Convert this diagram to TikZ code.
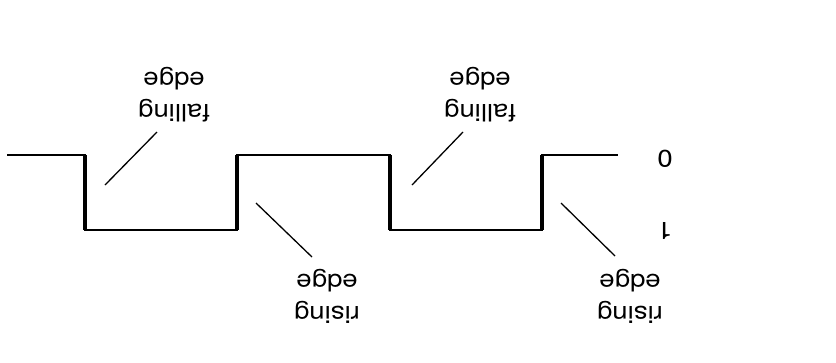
\documentclass[tikz,border=0pt]{standalone}
\usepackage{fontspec}
\setmainfont{TeX Gyre Heros}
\begin{document}
\begin{tikzpicture}[x=1pt,y=-1pt,
  lbl/.style={font=\fontsize{24}{32}\selectfont, align=center, rotate=180, xscale=1.15, inner sep=0pt},
  levelline/.style={line width=1.8pt},
  edgeline/.style={line width=4.2pt},
  leader/.style={line width=1.3pt}]
\useasboundingbox (0,0) rectangle (836,362);
% waveform corners
\coordinate (s) at (7,155);
\coordinate (a1) at (85,155);
\coordinate (a2) at (85,230);
\coordinate (b1) at (237,230);
\coordinate (b2) at (237,155);
\coordinate (c1) at (390,155);
\coordinate (c2) at (390,230);
\coordinate (d1) at (542,230);
\coordinate (d2) at (542,155);
\coordinate (e) at (618,155);
\draw[levelline] (s) -- (a1) -- (a2) -- (b1) -- (b2) -- (c1) -- (c2) -- (d1) -- (d2) -- (e);
\draw[edgeline] (a1) -- (a2);
\draw[edgeline] (b1) -- (b2);
\draw[edgeline] (c1) -- (c2);
\draw[edgeline] (d1) -- (d2);
% labels
\node[lbl] (f1) at (174,95) {falling\\edge};
\node[lbl] (f2) at (480,95) {falling\\edge};
\node[lbl] (r1) at (327,296) {rising\\edge};
\node[lbl] (r2) at (630,296) {rising\\edge};
\node[lbl] (zero) at (665,159) {0};
\node[lbl] (one) at (665,231) {1};
% leader lines
\coordinate (f1a) at (105,185);
\coordinate (f1b) at (157,132);
\coordinate (f2a) at (412,185);
\coordinate (f2b) at (463,132);
\coordinate (r1a) at (256,203);
\coordinate (r1b) at (312,257);
\coordinate (r2a) at (561,203);
\coordinate (r2b) at (615,256);
\draw[leader] (f1a) -- (f1b);
\draw[leader] (f2a) -- (f2b);
\draw[leader] (r1a) -- (r1b);
\draw[leader] (r2a) -- (r2b);
\end{tikzpicture}
\end{document}
